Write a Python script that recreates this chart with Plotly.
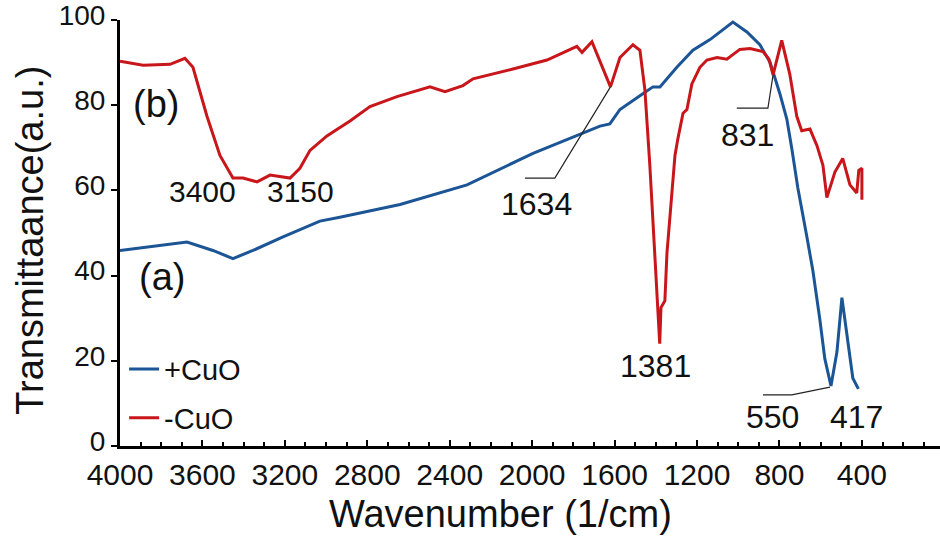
import plotly.graph_objects as go

# ---- data ----
wn_cuo = [4000, 3854, 3675, 3549, 3452, 3355, 3209, 3030, 2933, 2641, 2316, 1996,
          1783, 1671, 1623, 1574, 1463, 1414, 1380, 1298, 1220, 1137, 1026, 958,
          895, 846, 798, 764, 740, 711, 667, 638, 604, 580, 550, 521, 497, 473, 444, 417]
tr_cuo = [45.9, 46.8, 47.9, 45.9, 44.0, 45.9, 49.1, 52.8, 53.7, 56.7, 61.3, 68.7,
          72.8, 75.1, 75.6, 79.0, 82.7, 84.3, 84.3, 88.9, 92.9, 95.4, 99.5, 97.2,
          94.2, 90.1, 82.7, 76.7, 69.8, 60.6, 49.1, 41.2, 29.7, 20.5, 14.1, 22.1, 34.8, 26.0, 15.9, 13.4]

wn_nocuo = [4000, 3888, 3757, 3685, 3646, 3578, 3515, 3452, 3403, 3335, 3272, 3175,
            3127, 3078, 2996, 2884, 2787, 2656, 2496, 2423, 2336, 2287, 2093, 1928,
            1783, 1758, 1710, 1661, 1620, 1574, 1511, 1477, 1453, 1429, 1404, 1390,
            1381, 1375, 1356, 1346, 1322, 1307, 1293, 1268, 1249, 1225, 1186, 1152,
            1103, 1055, 1031, 992, 943, 880, 851, 831, 789, 750, 716, 692, 652, 618,
            589, 570, 531, 493, 458, 425, 415, 400, 400]
tr_nocuo = [90.3, 89.4, 89.6, 91.0, 88.9, 77.4, 68.2, 62.9, 62.9, 62.0, 63.6, 62.9,
            65.2, 69.4, 72.8, 76.3, 79.7, 82.0, 84.3, 83.2, 84.6, 86.2, 88.5, 90.6,
            93.8, 92.4, 94.9, 88.9, 84.3, 91.2, 94.2, 92.9, 83.6, 65.9, 45.2, 33.6,
            24.0, 32.5, 34.1, 45.2, 60.6, 68.2, 72.1, 78.1, 79.0, 85.0, 88.9, 90.6,
            91.2, 90.8, 91.7, 93.1, 93.3, 92.6, 90.8, 87.1, 95.2, 87.3, 77.4, 74.0, 74.4, 70.5,
            65.9, 58.3, 64.3, 67.5, 61.3, 59.4, 64.7, 65.2, 57.8]

x_ticks = [4000, 3600, 3200, 2800, 2400, 2000, 1600, 1200, 800, 400]
y_ticks = [0, 20, 40, 60, 80, 100]

# peak labels: text, x, y
peak_labels = ["3400", "3150", "1634", "831", "1381", "550", "417"]
peak_x = [3602, 3122, 1977, 953, 1400, 832, 424]
peak_y = [59.7, 59.7, 56.7, 73.0, 18.7, 6.7, 6.7]
peak_size = [30, 30, 32, 32, 32, 32, 32]

# leader lines (label bar -> band position)
leader_x = [[2035, 1890, 1620], [1007, 856, 831], [880, 740, 555]]
leader_y = [[62.9, 62.9, 84.3], [79.3, 79.3, 87.1], [12.0, 12.0, 13.8]]

BLUE = "#1c5596"
RED = "#c8161b"
FONT = "Liberation Sans, Arial, sans-serif"

fig = go.Figure()
fig.add_trace(go.Scatter(x=wn_cuo, y=tr_cuo, mode="lines", name="+CuO",
                         legendgroup="a", line=dict(color=BLUE, width=3)))
fig.add_trace(go.Scatter(x=wn_nocuo, y=tr_nocuo, mode="lines", name="-CuO",
                         legendgroup="b", line=dict(color=RED, width=3)))

for lx, ly in zip(leader_x, leader_y):
    fig.add_trace(go.Scatter(x=lx, y=ly, mode="lines", showlegend=False,
                             hoverinfo="skip", line=dict(color="#222222", width=1.2)))

for t, x, y, s in zip(peak_labels, peak_x, peak_y, peak_size):
    fig.add_annotation(x=x, y=y, text=t, showarrow=False, xref="x", yref="y",
                       font=dict(size=s, color="#111111", family=FONT))

fig.add_annotation(x=3825, y=80.4, text="(b)", showarrow=False,
                   font=dict(size=38, color="#111111", family=FONT))
fig.add_annotation(x=3796, y=39.6, text="(a)", showarrow=False,
                   font=dict(size=38, color="#111111", family=FONT))

# axis titles
fig.add_annotation(x=-0.1098, y=0.484, xref="paper", yref="paper", text="Transmittaance(a.u.)",
                   textangle=-90, showarrow=False, xanchor="center", yanchor="middle",
                   font=dict(size=38, color="#111111", family=FONT))
fig.add_annotation(x=0.4646, y=-0.159, xref="paper", yref="paper", text="Wavenumber (1/cm)",
                   showarrow=False, xanchor="center", yanchor="middle",
                   font=dict(size=38, color="#111111", family=FONT))

fig.update_layout(
    width=940, height=537,
    margin=dict(l=120, r=0, t=16, b=91),
    paper_bgcolor="white", plot_bgcolor="white",
    font=dict(family=FONT, color="#111111"),
    showlegend=True,
    legend=dict(x=0.005, y=0.24, xanchor="left", yanchor="top",
                font=dict(size=29, family=FONT, color="#111111"),
                bgcolor="rgba(0,0,0,0)", tracegroupgap=8,
                traceorder="grouped"),
    xaxis=dict(range=[4000, 21], tickvals=x_ticks, ticks="inside", ticklen=6,
               tickwidth=2, tickcolor="black",
               minor=dict(dtick=100, ticks="inside", ticklen=4, tickwidth=1.5, tickcolor="black"),
               showline=True, linewidth=3, linecolor="black", showgrid=False,
               zeroline=False, tickfont=dict(size=30, family=FONT, color="#111111")),
    yaxis=dict(range=[0, 100], tickvals=y_ticks, ticks="outside", ticklen=6,
               tickwidth=2, tickcolor="black", ticklabeloverflow="allow",
               ticklabelshift=-5,
               showline=True, linewidth=3, linecolor="black", showgrid=False,
               zeroline=False, tickfont=dict(size=28, family=FONT, color="#111111")),
)

fig.write_html("out.html")
